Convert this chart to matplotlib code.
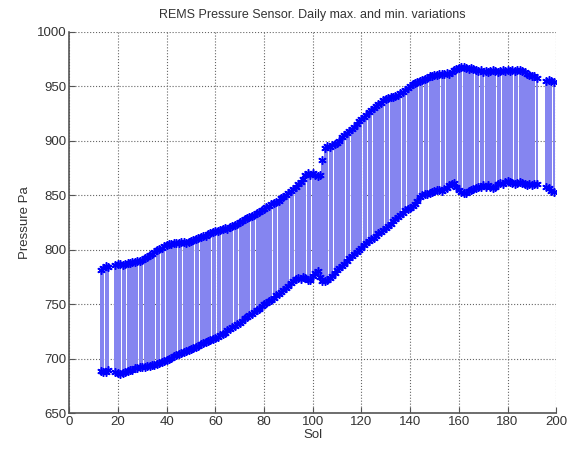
import numpy as np
import matplotlib
matplotlib.use('Agg')
from matplotlib import pyplot as plt

plt.rcParams['font.family'] = ['Liberation Sans', 'DejaVu Sans']

# sols with data (gaps at 17-18 and 193-195)
sols = list(range(13, 17)) + list(range(19, 193)) + list(range(196, 200))

# daily maximum pressure, Pa
p_max = [781, 783, 785, 784,
         786, 787, 787, 786, 787, 788, 788, 789, 789, 790, 790,
         791, 792, 793, 795, 796, 798, 800, 801, 802, 803,
         804, 805, 805, 806, 806, 806, 807, 807, 806, 807,
         808, 809, 810, 811, 812, 813, 813, 814, 815, 816,
         817, 817, 818, 819, 820, 819, 821, 822, 823, 824,
         825, 826, 828, 829, 830, 831, 832, 834, 835, 836,
         837, 839, 840, 842, 843, 844, 845, 847, 848, 850,
         852, 854, 856, 858, 860, 862, 865, 869, 870, 869,
         870, 869, 868, 869, 882, 893, 895, 894, 896, 897,
         898, 900, 903, 905, 907, 909, 911, 913, 915, 918,
         920, 922, 924, 926, 928, 930, 932, 934, 935, 937,
         938, 939, 940, 940, 941, 942, 944, 945, 947, 948,
         950, 952, 953, 954, 955, 956, 957, 958, 959, 959,
         960, 960, 961, 961, 961, 962, 961, 963, 965, 966,
         967, 968, 968, 967, 966, 967, 966, 965, 964, 965,
         963, 964, 963, 964, 965, 964, 963, 964, 965, 964,
         965, 964, 965, 964, 965, 965, 964, 963, 961, 960,
         959, 959, 958,
         955, 956, 955, 954]

# daily minimum pressure, Pa
p_min = [689, 688, 688, 690,
         688, 687, 686, 687, 688, 689, 690, 690, 691, 691, 692,
         692, 692, 693, 693, 694, 694, 695, 696, 697, 698,
         699, 700, 701, 702, 703, 704, 705, 706, 707, 708,
         709, 710, 711, 712, 713, 714, 715, 716, 717, 718,
         719, 720, 722, 723, 724, 726, 727, 729, 730, 732,
         733, 735, 737, 738, 740, 741, 743, 745, 746, 748,
         750, 751, 753, 754, 756, 758, 759, 761, 763, 765,
         767, 769, 771, 773, 774, 773, 775, 774, 772, 772,
         776, 779, 780, 775, 771, 771, 772, 774, 776, 779,
         781, 783, 785, 787, 790, 792, 794, 796, 798, 800,
         802, 804, 806, 808, 810, 811, 813, 815, 816, 818,
         820, 822, 824, 826, 828, 830, 832, 834, 836, 837,
         838, 840, 842, 845, 848, 850, 851, 851, 852, 853,
         854, 855, 855, 854, 856, 857, 859, 860, 861, 858,
         855, 853, 852, 852, 854, 855, 856, 857, 858, 858,
         859, 858, 859, 858, 857, 858, 860, 861, 860, 862,
         863, 862, 861, 860, 861, 862, 861, 860, 859, 860,
         859, 860, 860,
         858, 857, 854, 853]

sols = np.array(sols)
p_max = np.array(p_max)
p_min = np.array(p_min)

fig = plt.figure(figsize=(5.67, 4.54), dpi=100)
ax = fig.add_axes([0.122, 0.090, 0.859, 0.840])

ax.bar(sols, p_max - p_min, bottom=p_min, width=0.88, color='#8585f0', linewidth=0)
# matlab style '*' asterisk markers
ax.plot(sols, p_max, ls='none', marker=(6, 2, 0), ms=6, mew=1.1, color='#0000ff')
ax.plot(sols, p_min, ls='none', marker=(6, 2, 0), ms=6, mew=1.1, color='#0000ff')

ax.set_xlim(0, 200)
ax.set_ylim(650, 1000)
ax.set_xticks(np.arange(0, 201, 20))
ax.set_yticks(np.arange(650, 1001, 50))
ax.grid(True, ls=':', color='#666666', lw=0.8)
ax.set_axisbelow(True)

ax.spines['top'].set_visible(False)
ax.spines['right'].set_visible(False)
for s in ['left', 'bottom']:
    ax.spines[s].set_color('#555555')
    ax.spines[s].set_linewidth(1.2)
ax.tick_params(direction='in', length=4, color='#555555', labelsize=9.5,
               labelcolor='#333333', pad=2)

ax.set_xlabel('Sol', fontsize=9.5, color='#333333', labelpad=1)
ax.set_ylabel('Pressure Pa', fontsize=9.5, color='#333333', labelpad=4)
ax.set_title('REMS Pressure Sensor. Daily max. and min. variations',
             fontsize=9, color='#333333', pad=10)

fig.savefig('out.png', dpi=100)
